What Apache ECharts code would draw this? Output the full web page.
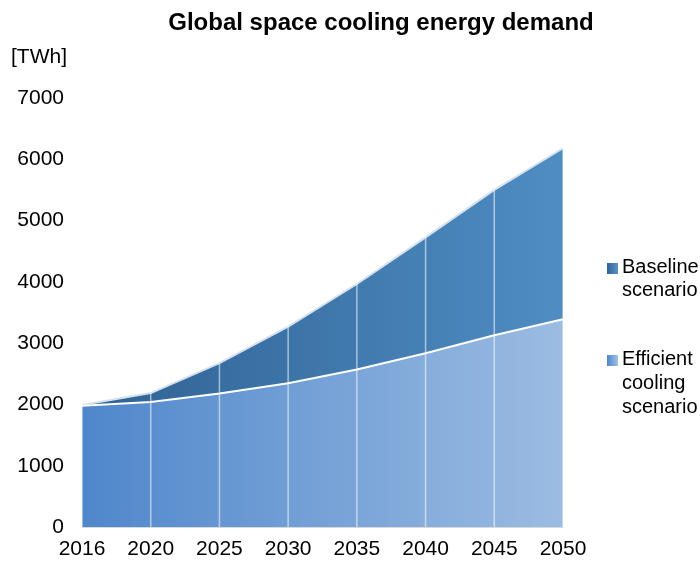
<!DOCTYPE html>
<html>
<head>
<meta charset="utf-8">
<script src="https://cdn.jsdelivr.net/npm/echarts@6/dist/echarts.min.js"></script>
<style>
  html, body { margin: 0; padding: 0; background: #fff; }
  #chart { width: 700px; height: 563px; }
</style>
</head>
<body>
<div id="chart"></div>
<script>
// Years on the horizontal axis
const years = ['2016', '2020', '2025', '2030', '2035', '2040', '2045', '2050'];
// Space cooling demand, TWh
const baseline = [1990, 2185, 2675, 3270, 3965, 4725, 5500, 6180];
const efficient = [1980, 2040, 2180, 2345, 2570, 2835, 3130, 3390];
const seriesNames = ['Baseline scenario', 'Efficient cooling scenario'];

const FONT = '"Liberation Sans", Arial, sans-serif';

const grad = (a, b) => new echarts.graphic.LinearGradient(0, 0, 1, 0, [
  { offset: 0, color: a }, { offset: 1, color: b }
]);
const baseFill = grad('#2f6193', '#4f8dc3');
const effFill = grad('#4f87cb', '#9cbce2');

const chart = echarts.init(document.getElementById('chart'), null, { renderer: 'canvas' });

chart.setOption({
  animation: false,
  textStyle: { fontFamily: FONT },
  title: {
    text: 'Global space cooling energy demand',
    left: 376, textAlign: 'center', top: 6,
    textStyle: { fontFamily: FONT, fontSize: 24, fontWeight: 'bold', color: '#000' }
  },
  grid: { left: 82, right: 137, top: 98, bottom: 36 },
  xAxis: {
    type: 'category',
    data: years,
    boundaryGap: false,
    axisLine: { show: true, lineStyle: { color: '#d9d9d9', width: 1 } },
    axisTick: { show: false },
    axisLabel: { fontFamily: FONT, fontSize: 21, color: '#000', margin: 12 },
    splitLine: { show: false }
  },
  yAxis: {
    type: 'value',
    min: 0, max: 7000, interval: 1000,
    name: '[TWh]',
    nameLocation: 'end',
    nameGap: 30,
    nameTextStyle: { fontFamily: FONT, fontSize: 21, color: '#000', align: 'right', padding: [0, 15, 0, 0] },
    axisLine: { show: false },
    axisTick: { show: false },
    axisLabel: { fontFamily: FONT, fontSize: 21, color: '#000', margin: 18, formatter: v => String(v) },
    splitLine: { show: false }
  },
  series: [
    {
      name: seriesNames[0],
      type: 'line',
      data: baseline,
      symbol: 'none',
      z: 2,
      lineStyle: { color: '#d6e1ee', width: 2 },
      areaStyle: { color: baseFill, opacity: 1 }
    },
    {
      name: seriesNames[1],
      type: 'line',
      data: efficient,
      symbol: 'none',
      z: 3,
      lineStyle: { color: '#ffffff', width: 2 },
      areaStyle: { color: effFill, opacity: 1 }
    },
    {
      // vertical drop lines from the axis up to the baseline curve
      type: 'custom',
      z: 4,
      silent: true,
      data: baseline.map((v, i) => [i, v]),
      renderItem: function (params, api) {
        const p0 = api.coord([api.value(0), 0]);
        const p1 = api.coord([api.value(0), api.value(1)]);
        return {
          type: 'line',
          shape: { x1: p0[0], y1: p0[1], x2: p1[0], y2: p1[1] },
          style: { stroke: 'rgba(255,255,255,0.55)', lineWidth: 1.5 }
        };
      }
    }
  ],
  graphic: [
    { type: 'rect', shape: { x: 607, y: 263, width: 11, height: 11 }, style: { fill: grad('#2f6193', '#5a93c6') } },
    { type: 'text', x: 622, y: 256, style: { text: seriesNames[0].replace(' ', '\n'), font: '20px ' + FONT, fill: '#000', lineHeight: 23 } },
    { type: 'rect', shape: { x: 607, y: 355, width: 11, height: 11 }, style: { fill: grad('#4f87cb', '#a3c1e4') } },
    { type: 'text', x: 622, y: 347, style: { text: seriesNames[1].split(' ').join('\n'), font: '20px ' + FONT, fill: '#000', lineHeight: 24 } }
  ]
});
</script>
</body>
</html>
